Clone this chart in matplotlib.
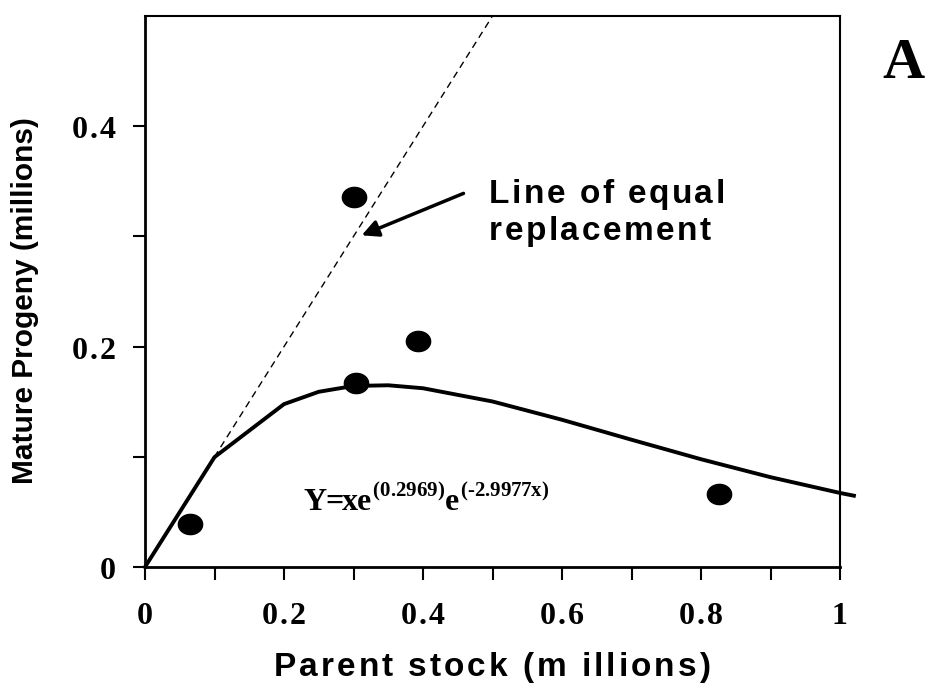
import numpy as np
import matplotlib.pyplot as plt
from matplotlib.path import Path
from matplotlib.font_manager import FontProperties, findfont
from matplotlib.ft2font import FT2Font

# observed parent stock vs progeny (millions)
obs_x = [0.065, 0.301, 0.304, 0.393, 0.826]
obs_y = [0.039, 0.3355, 0.167, 0.2055, 0.066]

# fitted curve as drawn
fit_x = [0, 0.1, 0.2, 0.25, 0.3, 0.35, 0.4, 0.5, 0.6, 0.7, 0.8, 0.9, 1.0, 1.02]
fit_y = [0, 0.0997, 0.1478, 0.159, 0.1643, 0.1649, 0.1622, 0.1502, 0.1336, 0.1155, 0.0978, 0.0815, 0.0672, 0.0647]

# line of equal replacement
eq_x = [0, 0.5]
eq_y = [0, 0.5]

xtick_vals = [0, 0.2, 0.4, 0.6, 0.8, 1.0]
xtick_labels = ['0', '0.2', '0.4', '0.6', '0.8', '1']
ytick_vals = [0, 0.2, 0.4]
ytick_labels = ['0', '0.2', '0.4']

W, H = 926, 692
fig = plt.figure(figsize=(W/100, H/100), dpi=100)
ax = fig.add_axes([145/W, 1 - 567/H, 695/W, 551/H])


def tracked(s, x, y, size, family, track=0.0, ha='left', rot=0):
    """draw s char by char with extra letter spacing (pixels), x/y in figure pixels"""
    fp = FontProperties(family=family, weight='bold', size=size)
    font = FT2Font(findfont(fp))
    font.set_size(size, 100)
    adv = [font.load_char(ord(c)).linearHoriAdvance / 65536 for c in s]
    total = sum(adv) + track*(len(s) - 1)
    off = {'left': 0, 'center': -total/2, 'right': -total}[ha]
    c_, s_ = np.cos(np.radians(rot)), np.sin(np.radians(rot))
    for ch, a in zip(s, adv):
        fig.text((x + off*c_)/W, (y + off*s_)/H, ch, fontproperties=fp, ha='left', va='baseline',
                 rotation=rot, rotation_mode='anchor')
        off += a + track
    return x + off - track


ax.plot(eq_x, eq_y, color='black', lw=1.0, ls=(0, (5, 3.5)), clip_on=False)
ax.plot(fit_x, fit_y, color='black', lw=2.8, clip_on=False, solid_joinstyle='miter')

t = np.linspace(0, 2*np.pi, 40)
ell = Path(np.column_stack([1.2*np.cos(t), np.sin(t)]))
ax.plot(obs_x, obs_y, ls='none', marker=ell, ms=17.5, color='black')

ax.set_xlim(0, 1)
ax.set_ylim(0, 0.5)
ax.set_xticks(np.arange(0, 1.01, 0.1))
ax.set_yticks([0, 0.1, 0.2, 0.3, 0.4])
ax.tick_params(direction='out', length=9, width=1.5, labelbottom=False, labelleft=False)
for s in ['left', 'bottom']:
    ax.spines[s].set_linewidth(2)
for s in ['top', 'right']:
    ax.spines[s].set_linewidth(1.5)

# tick labels (Times bold, slightly spaced)
for v, lab in zip(xtick_vals, xtick_labels):
    px = ax.transData.transform((v, 0))[0]
    tracked(lab, px, H - 624, 23, 'Liberation Serif', 2, ha='center')
for v, lab in zip(ytick_vals, ytick_labels):
    py = ax.transData.transform((0, v))[1]
    tracked(lab, 116, py - 12, 23, 'Liberation Serif', 2, ha='right')

# axis titles
tracked('Parent stock (m illions)', 492, H - 676, 24, 'Liberation Sans', 3, ha='center')
fig.text(33/W, (H - 301)/H, 'Mature Progeny (millions)', family='Liberation Sans', fontweight='bold',
         fontsize=21.5, rotation=90, rotation_mode='anchor', ha='center', va='baseline')

# annotation
ax.annotate('', xy=(0.308, 0.300), xytext=(0.462, 0.340),
            arrowprops=dict(arrowstyle='-|>', color='black', lw=2.5, mutation_scale=25))
tracked('Line of equal', 489, H - 203, 24, 'Liberation Sans', 2.5)
tracked('replacement', 489, H - 240, 24, 'Liberation Sans', 2.5)

# fitted equation
x0 = tracked('Y=xe', 303, H - 510, 23, 'Liberation Serif', -1)
x0 = tracked('(0.2969)', x0 + 1, H - 496, 15, 'Liberation Serif', 0)
x0 = tracked('e', x0 + 1, H - 510, 23, 'Liberation Serif', 0)
tracked('(-2.9977x)', x0 + 1, H - 496, 15, 'Liberation Serif', 0)

fig.text(903/W, 1 - 64/H, 'A', family='Liberation Serif', fontweight='bold', fontsize=42,
         ha='center', va='center')

fig.savefig('out.png', dpi=100)
